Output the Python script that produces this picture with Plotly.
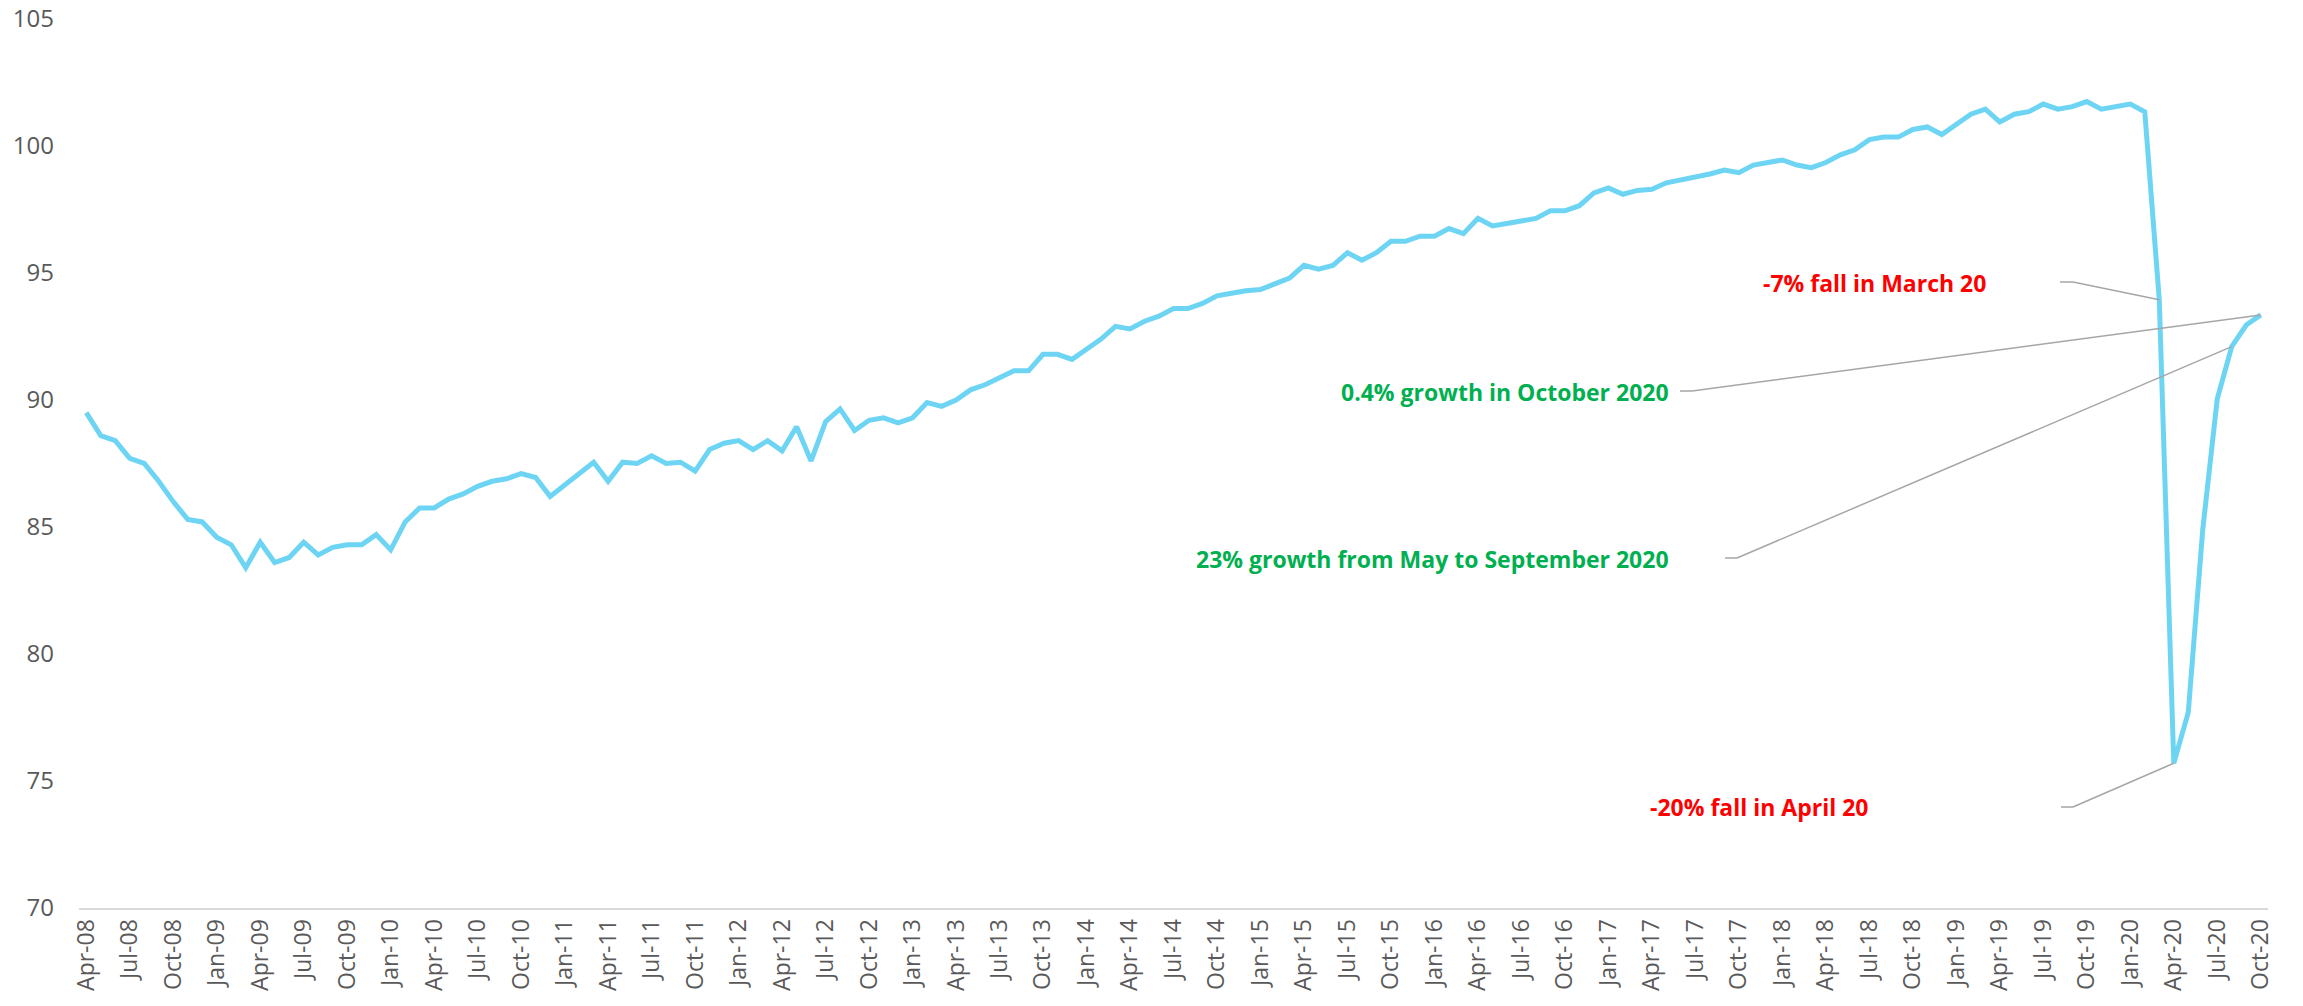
import pandas as pd
import plotly.graph_objects as go


# =====================================
# DATA  (index, monthly, Apr-08 .. Oct-20)
# =====================================

values_2008 = [89.5, 88.6, 88.4, 87.7, 87.5, 86.8, 86.0, 85.3, 85.2]
values_2009 = [84.6, 84.3, 83.4, 84.4, 83.6, 83.8, 84.4, 83.9, 84.2, 84.3, 84.3, 84.7]
values_2010 = [84.1, 85.2, 85.75, 85.75, 86.1, 86.3, 86.6, 86.8, 86.9, 87.1, 86.95, 86.2]
values_2011 = [86.65, 87.05, 87.55, 86.8, 87.55, 87.5, 87.8, 87.5, 87.55, 87.2, 88.05, 88.3]
values_2012 = [88.4, 88.05, 88.4, 88.0, 88.95, 87.6, 89.15, 89.65, 88.8, 89.2, 89.3, 89.1]
values_2013 = [89.3, 89.9, 89.75, 90.0, 90.4, 90.6, 90.9, 91.15, 91.15, 91.8, 91.8, 91.6]
values_2014 = [92.0, 92.4, 92.9, 92.8, 93.1, 93.3, 93.6, 93.6, 93.8, 94.1, 94.2, 94.3]
values_2015 = [94.35, 94.6, 94.8, 95.3, 95.15, 95.3, 95.8, 95.5, 95.8, 96.25, 96.25, 96.45]
values_2016 = [96.45, 96.75, 96.55, 97.15, 96.85, 96.95, 97.05, 97.15, 97.45, 97.45, 97.65, 98.15]
values_2017 = [98.35, 98.1, 98.25, 98.3, 98.55, 98.65, 98.75, 98.9, 99.05, 98.95, 99.25, 99.35]
values_2018 = [99.45, 99.25, 99.15, 99.35, 99.65, 99.85, 100.25, 100.35, 100.35, 100.65, 100.75, 100.45]
values_2019 = [100.85, 101.25, 101.45, 100.95, 101.25, 101.35, 101.65, 101.45, 101.55, 101.75, 101.45, 101.55]
values_2020 = [101.65, 101.35, 93.95, 75.7, 77.7, 84.9, 90.05, 92.1, 92.95, 93.35]

values = (
    values_2008 + values_2009 + values_2010 + values_2011 + values_2012
    + values_2013 + values_2014 + values_2015 + values_2016 + values_2017
    + values_2018 + values_2019 + values_2020
)

months = [
    d.strftime("%b-%y")
    for d in pd.date_range("2008-04-01", "2020-10-01", freq="MS")
]

tick_labels = months[::3]

y_ticks = [70, 75, 80, 85, 90, 95, 100, 105]

# annotation texts and the month each one points at
notes = [
    ("-7% fall in March 20", "Mar-20", "#FF0000"),
    ("0.4% growth in October 2020", "Oct-20", "#00B050"),
    ("23% growth from May to September 2020", "Aug-20", "#00B050"),
    ("-20% fall in April 20", "Apr-20", "#FF0000"),
]


# =====================================
# LAYOUT HELPERS (pixel -> axis units)
# =====================================

W, H = 2303, 1006
L, R, T, B = 79, 35, 19, 98
PLOT_W = W - L - R
PLOT_H = H - T - B
N = len(months)


def px_x(px):
    return (px - L) / PLOT_W * N - 0.5


def px_y(py):
    return 70 + (H - B - py) / PLOT_H * 35


def paper_x(px):
    return (px - L) / PLOT_W


def paper_y(py):
    return (H - B - py) / PLOT_H


# text right edge / centre y, elbow start, elbow end (pixels)
note_pos = [
    (1988, 283, 2060, 2073, 282),
    (1671, 392, 1680, 1692, 391),
    (1671, 559, 1725, 1737, 558),
    (1871, 807, 2061, 2073, 807),
]


# =====================================
# FIGURE
# =====================================

fig = go.Figure()

fig.add_trace(
    go.Scatter(
        x=months,
        y=values,
        mode="lines",
        line=dict(color="#6DD5F3", width=5),
        hoverinfo="x+y",
        showlegend=False,
    )
)

for (text, month, colour), (tx, ty, ex0, ex1, ey) in zip(notes, note_pos):

    idx = months.index(month)

    fig.add_annotation(
        text=f"<b>{text}</b>",
        xref="paper",
        yref="paper",
        x=paper_x(tx),
        y=paper_y(ty),
        xanchor="right",
        yanchor="middle",
        showarrow=False,
        font=dict(family="Open Sans", size=23, color=colour),
    )

    fig.add_shape(
        type="line",
        xref="x",
        yref="y",
        x0=px_x(ex0),
        x1=px_x(ex1),
        y0=px_y(ey),
        y1=px_y(ey),
        line=dict(color="#A6A6A6", width=1.5),
    )

    fig.add_shape(
        type="line",
        xref="x",
        yref="y",
        x0=px_x(ex1),
        y0=px_y(ey),
        x1=idx,
        y1=values[idx],
        line=dict(color="#A6A6A6", width=1.5),
    )

fig.update_layout(
    width=W,
    height=H,
    margin=dict(l=L, r=R, t=T, b=B),
    paper_bgcolor="white",
    plot_bgcolor="white",
)

fig.update_xaxes(
    type="category",
    categoryorder="array",
    categoryarray=months,
    range=[-0.5, N - 0.5],
    tickmode="array",
    tickvals=tick_labels,
    ticktext=tick_labels,
    tickangle=-90,
    tickfont=dict(family="Open Sans", size=23, color="#595959"),
    showgrid=False,
    showline=True,
    linecolor="#D9D9D9",
    linewidth=2,
    ticks="",
    zeroline=False,
    automargin=False,
)

fig.update_yaxes(
    range=[70, 105],
    tickmode="array",
    tickvals=y_ticks,
    tickfont=dict(family="Open Sans", size=24, color="#595959"),
    showgrid=False,
    showline=False,
    zeroline=False,
    ticks="",
    ticklabelstandoff=24,
    automargin=False,
)

fig.write_html(
    "out.html",
    config={"displayModeBar": False},
    post_script="document.body.style.margin='0px';",
)
